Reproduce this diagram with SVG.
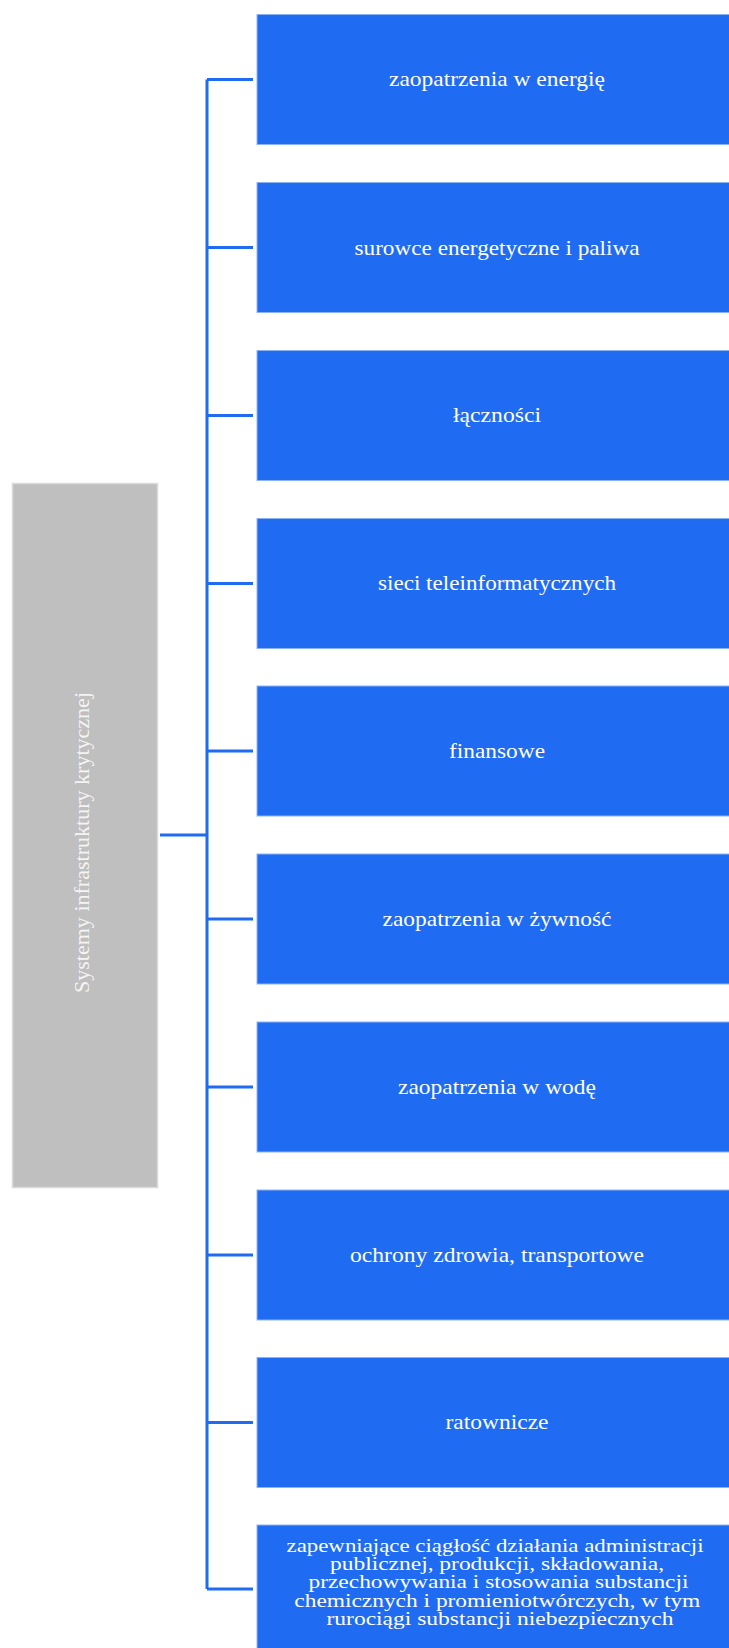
<svg xmlns="http://www.w3.org/2000/svg" width="729" height="1648" viewBox="0 0 729 1648">
<style>
.bx{fill:#1F6BF2;stroke:#8DB3F7;stroke-width:1}
.gr{fill:#BFBFBF;stroke:#DADADA;stroke-width:1.5}
.t{font-family:"Liberation Serif","Times New Roman",serif;font-size:22px;fill:#FFFFFF;text-anchor:middle}
.tg{font-family:"Liberation Serif","Times New Roman",serif;font-size:21px;fill:#F4F4F4;text-anchor:middle}
.tm{font-family:"Liberation Serif","Times New Roman",serif;font-size:18.5px;fill:#FFFFFF;text-anchor:middle}
.c{fill:none;stroke:#1F6BF2;stroke-width:3}
</style>
<rect width="729" height="1648" fill="#FFFFFF"/>
<g id="connectors">
<path class="c" d="M160,835 H207"/>
<path class="c" d="M207,79.5 V1589"/>
<path class="c" d="M207,79.5 H253"/>
<path class="c" d="M207,247.5 H253"/>
<path class="c" d="M207,415.5 H253"/>
<path class="c" d="M207,583.5 H253"/>
<path class="c" d="M207,751 H253"/>
<path class="c" d="M207,919 H253"/>
<path class="c" d="M207,1087 H253"/>
<path class="c" d="M207,1255 H253"/>
<path class="c" d="M207,1422.5 H253"/>
<path class="c" d="M207,1589 H253"/>
</g>
<g id="root">
<rect class="gr" x="12.5" y="483.5" width="145" height="704"/>
<text class="tg" transform="translate(89,842.5) rotate(-90)" x="0" y="0" textLength="301" lengthAdjust="spacingAndGlyphs">Systemy infrastruktury krytycznej</text>
</g>
<g id="n1">
<rect class="bx" x="257" y="14.5" width="480" height="130"/>
<text class="t" x="497" y="86" textLength="216" lengthAdjust="spacingAndGlyphs">zaopatrzenia w energię</text>
</g>
<g id="n2">
<rect class="bx" x="257" y="182.5" width="480" height="130"/>
<text class="t" x="497" y="254.5" textLength="285" lengthAdjust="spacingAndGlyphs">surowce energetyczne i paliwa</text>
</g>
<g id="n3">
<rect class="bx" x="257" y="350.5" width="480" height="130"/>
<text class="t" x="497" y="422" textLength="88" lengthAdjust="spacingAndGlyphs">łączności</text>
</g>
<g id="n4">
<rect class="bx" x="257" y="518.5" width="480" height="130"/>
<text class="t" x="497" y="590" textLength="238" lengthAdjust="spacingAndGlyphs">sieci teleinformatycznych</text>
</g>
<g id="n5">
<rect class="bx" x="257" y="686" width="480" height="130"/>
<text class="t" x="497" y="757.5" textLength="96" lengthAdjust="spacingAndGlyphs">finansowe</text>
</g>
<g id="n6">
<rect class="bx" x="257" y="854" width="480" height="130"/>
<text class="t" x="497" y="925.5" textLength="229" lengthAdjust="spacingAndGlyphs">zaopatrzenia w żywność</text>
</g>
<g id="n7">
<rect class="bx" x="257" y="1022" width="480" height="130"/>
<text class="t" x="497" y="1093.5" textLength="198" lengthAdjust="spacingAndGlyphs">zaopatrzenia w wodę</text>
</g>
<g id="n8">
<rect class="bx" x="257" y="1190" width="480" height="130"/>
<text class="t" x="497" y="1262" textLength="294" lengthAdjust="spacingAndGlyphs">ochrony zdrowia,  transportowe</text>
</g>
<g id="n9">
<rect class="bx" x="257" y="1357.5" width="480" height="130"/>
<text class="t" x="497" y="1429" textLength="103" lengthAdjust="spacingAndGlyphs">ratownicze</text>
</g>
<g id="n10">
<rect class="bx" x="257" y="1525" width="480" height="135"/>
<text class="tm" x="495" y="1551.7" textLength="417" lengthAdjust="spacingAndGlyphs">zapewniające ciągłość  działania  administracji</text>
<text class="tm" x="497" y="1570" textLength="334" lengthAdjust="spacingAndGlyphs">publicznej,  produkcji,  składowania,</text>
<text class="tm" x="498.5" y="1588.3" textLength="380" lengthAdjust="spacingAndGlyphs">przechowywania i stosowania substancji</text>
<text class="tm" x="497.3" y="1606.7" textLength="406" lengthAdjust="spacingAndGlyphs">chemicznych i promieniotwórczych,  w tym</text>
<text class="tm" x="500" y="1625" textLength="347" lengthAdjust="spacingAndGlyphs">rurociągi substancji niebezpiecznych</text>
</g>
</svg>
